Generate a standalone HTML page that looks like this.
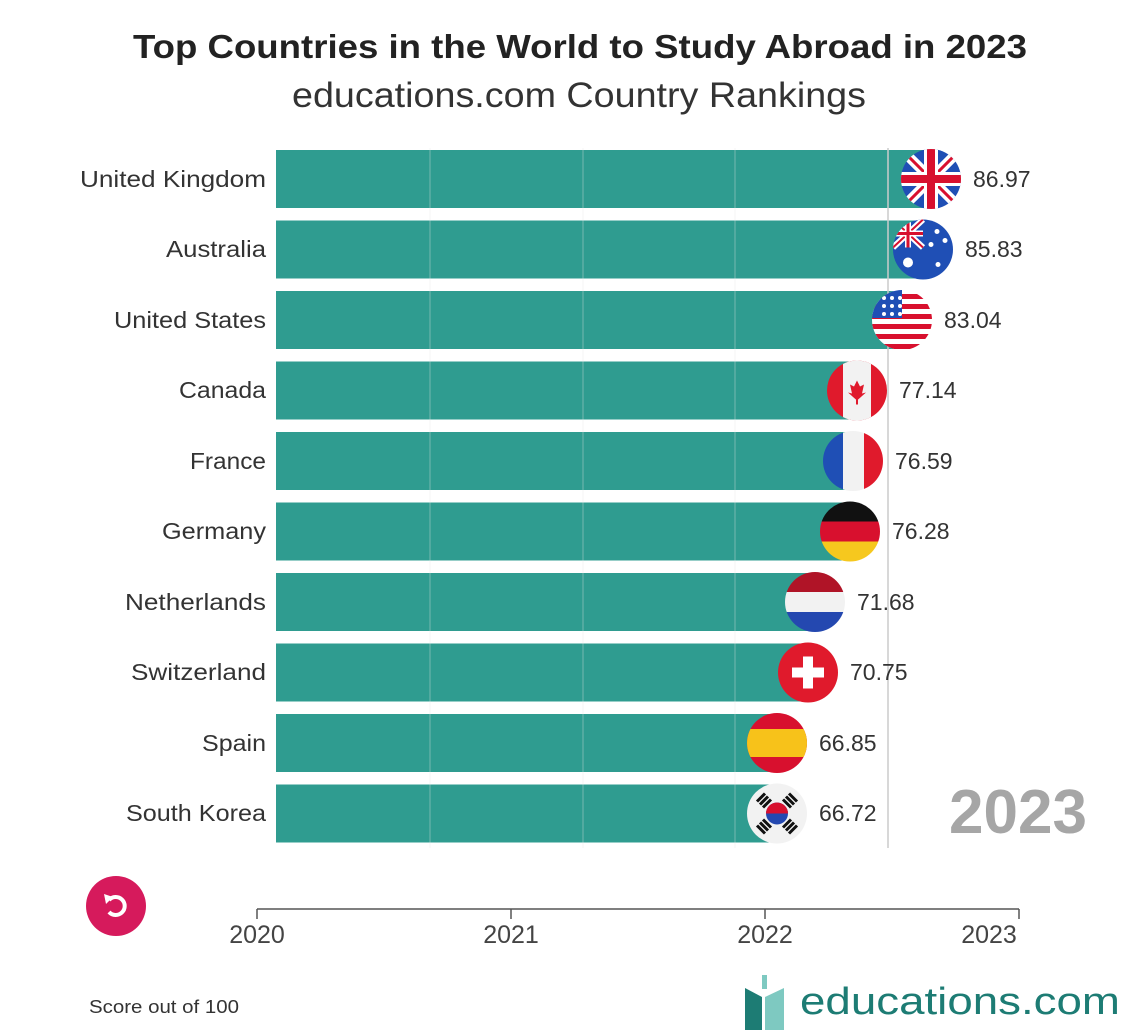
<!DOCTYPE html>
<html><head><meta charset="utf-8"><style>
html,body{margin:0;padding:0;background:#fff;}
svg{display:block;font-family:"Liberation Sans",sans-serif;}
</style></head><body>
<svg width="1140" height="1030" viewBox="0 0 1140 1030" xmlns="http://www.w3.org/2000/svg">
<defs><clipPath id="c"><circle cx="0" cy="0" r="30"/></clipPath></defs>
<rect width="1140" height="1030" fill="#fff"/>
<text x="580" y="58" text-anchor="middle" font-size="33" font-weight="bold" fill="#222" textLength="894" lengthAdjust="spacingAndGlyphs">Top Countries in the World to Study Abroad in 2023</text>
<text x="579" y="107" text-anchor="middle" font-size="35" fill="#333" textLength="574" lengthAdjust="spacingAndGlyphs">educations.com Country Rankings</text>

<g fill="#2f9c90">
<rect x="276" y="150" width="655" height="58"/>
<rect x="276" y="220.5" width="647" height="58"/>
<rect x="276" y="291" width="626" height="58"/>
<rect x="276" y="361.5" width="581" height="58"/>
<rect x="276" y="432" width="577" height="58"/>
<rect x="276" y="502.5" width="574" height="58"/>
<rect x="276" y="573" width="539" height="58"/>
<rect x="276" y="643.5" width="532" height="58"/>
<rect x="276" y="714" width="501" height="58"/>
<rect x="276" y="784.5" width="501" height="58"/>
</g>
<g stroke="#e8e8e8" stroke-opacity="0.25" stroke-width="1.5">
<line x1="430" y1="148" x2="430" y2="848"/><line x1="583" y1="148" x2="583" y2="848"/><line x1="735" y1="148" x2="735" y2="848"/>
</g>
<line x1="888" y1="148" x2="888" y2="848" stroke="#ccc" stroke-width="1.5"/>

<g font-size="23" fill="#333" text-anchor="end">
<text x="266" y="187" textLength="186" lengthAdjust="spacingAndGlyphs">United Kingdom</text>
<text x="266" y="257" textLength="100" lengthAdjust="spacingAndGlyphs">Australia</text>
<text x="266" y="328" textLength="152" lengthAdjust="spacingAndGlyphs">United States</text>
<text x="266" y="398" textLength="87" lengthAdjust="spacingAndGlyphs">Canada</text>
<text x="266" y="469" textLength="76" lengthAdjust="spacingAndGlyphs">France</text>
<text x="266" y="539" textLength="104" lengthAdjust="spacingAndGlyphs">Germany</text>
<text x="266" y="610" textLength="141" lengthAdjust="spacingAndGlyphs">Netherlands</text>
<text x="266" y="680" textLength="135" lengthAdjust="spacingAndGlyphs">Switzerland</text>
<text x="266" y="751" textLength="64" lengthAdjust="spacingAndGlyphs">Spain</text>
<text x="266" y="821" textLength="140" lengthAdjust="spacingAndGlyphs">South Korea</text>
</g>
<g font-size="23" fill="#333">
<text x="973" y="187">86.97</text>
<text x="965" y="257">85.83</text>
<text x="944" y="328">83.04</text>
<text x="899" y="398">77.14</text>
<text x="895" y="469">76.59</text>
<text x="892" y="539">76.28</text>
<text x="857" y="610">71.68</text>
<text x="850" y="680">70.75</text>
<text x="819" y="751">66.85</text>
<text x="819" y="821">66.72</text>
</g>

<g transform="translate(931,179)" clip-path="url(#c)">
<rect x="-30" y="-30" width="60" height="60" fill="#1f4fb5"/>
<path d="M-30,-30L30,30M30,-30L-30,30" stroke="#fff" stroke-width="10"/>
<path d="M-30,-30L30,30M30,-30L-30,30" stroke="#d8102e" stroke-width="3"/>
<rect x="-30" y="-7" width="60" height="14" fill="#fff"/><rect x="-7" y="-30" width="14" height="60" fill="#fff"/>
<rect x="-30" y="-4" width="60" height="8" fill="#d8102e"/><rect x="-4" y="-30" width="8" height="60" fill="#d8102e"/>
</g>
<g transform="translate(923,249.5)" clip-path="url(#c)">
<rect x="-30" y="-30" width="60" height="60" fill="#1f4fb5"/>
<path d="M-30,-30L0,-2M0,-30L-30,-2" stroke="#fff" stroke-width="6"/>
<path d="M-30,-30L0,-2M0,-30L-30,-2" stroke="#d8102e" stroke-width="2"/>
<rect x="-30" y="-19" width="30" height="6" fill="#fff"/><rect x="-18" y="-30" width="6" height="28" fill="#fff"/>
<rect x="-30" y="-17.5" width="30" height="3" fill="#d8102e"/><rect x="-16.5" y="-30" width="3" height="28" fill="#d8102e"/>
<circle cx="-15" cy="13" r="5" fill="#fff"/><circle cx="14" cy="-18" r="2.5" fill="#fff"/><circle cx="22" cy="-9" r="2.5" fill="#fff"/><circle cx="8" cy="-5" r="2.5" fill="#fff"/><circle cx="15" cy="15" r="2.5" fill="#fff"/>
</g>
<g transform="translate(902,320)" clip-path="url(#c)">
<rect x="-30" y="-30" width="60" height="60" fill="#fff"/>
<g fill="#d8102e"><rect x="-30" y="-26" width="60" height="5"/><rect x="-30" y="-16" width="60" height="5"/><rect x="-30" y="-6" width="60" height="5"/><rect x="-30" y="4" width="60" height="5"/><rect x="-30" y="14" width="60" height="5"/><rect x="-30" y="24" width="60" height="5"/></g>
<rect x="-30" y="-30" width="30" height="28" fill="#1f4fb5"/>
<g fill="#fff"><circle cx="-18" cy="-22" r="2"/><circle cx="-10" cy="-22" r="2"/><circle cx="-2" cy="-22" r="2"/><circle cx="-18" cy="-14" r="2"/><circle cx="-10" cy="-14" r="2"/><circle cx="-2" cy="-14" r="2"/><circle cx="-18" cy="-6" r="2"/><circle cx="-10" cy="-6" r="2"/><circle cx="-2" cy="-6" r="2"/></g>
</g>
<g transform="translate(857,390.5)" clip-path="url(#c)">
<rect x="-30" y="-30" width="60" height="60" fill="#e01a2c"/>
<rect x="-14" y="-30" width="28" height="60" fill="#f2f2f2"/>
<path d="M0,-10L3,-4L7,-6L5,3L9,2L0,10L-9,2L-5,3L-7,-6L-3,-4Z" fill="#e01a2c"/>
<rect x="-1" y="8" width="2" height="6" fill="#e01a2c"/>
</g>
<g transform="translate(853,461)" clip-path="url(#c)">
<rect x="-30" y="-30" width="20" height="60" fill="#1f4fb5"/><rect x="-10" y="-30" width="21" height="60" fill="#f2f2f2"/><rect x="11" y="-30" width="20" height="60" fill="#e01a2c"/>
</g>
<g transform="translate(850,531.5)" clip-path="url(#c)">
<rect x="-30" y="-30" width="60" height="20" fill="#111"/><rect x="-30" y="-10" width="60" height="20" fill="#d8102e"/><rect x="-30" y="10" width="60" height="20" fill="#f6c81e"/>
</g>
<g transform="translate(815,602)" clip-path="url(#c)">
<rect x="-30" y="-30" width="60" height="20" fill="#b01427"/><rect x="-30" y="-10" width="60" height="20" fill="#f2f2f2"/><rect x="-30" y="10" width="60" height="20" fill="#2448b0"/>
</g>
<g transform="translate(808,672.5)" clip-path="url(#c)">
<rect x="-30" y="-30" width="60" height="60" fill="#e01a2c"/>
<rect x="-5" y="-16" width="10" height="32" fill="#fff"/><rect x="-16" y="-5" width="32" height="10" fill="#fff"/>
</g>
<g transform="translate(777,743)" clip-path="url(#c)">
<rect x="-30" y="-30" width="60" height="60" fill="#d8102e"/><rect x="-30" y="-14" width="60" height="28" fill="#f7c21a"/>
</g>
<g transform="translate(777,813.5)" clip-path="url(#c)">
<rect x="-30" y="-30" width="60" height="60" fill="#f2f2f2"/>
<circle cx="0" cy="0" r="11" fill="#2448b0"/><path d="M-11,0A11,11 0 0 1 11,0Z" fill="#d8102e"/>
<g stroke="#111" stroke-width="3">
<path d="M-20,-12L-12,-20M-17,-9L-9,-17M-14,-6L-6,-14"/>
<path d="M20,-12L12,-20M17,-9L9,-17M14,-6L6,-14"/>
<path d="M-20,12L-12,20M-17,9L-9,17M-14,6L-6,14"/>
<path d="M20,12L12,20M17,9L9,17M14,6L6,14"/>
</g>
</g>

<text x="1018" y="833" text-anchor="middle" font-size="62" font-weight="bold" fill="#a6a6a6">2023</text>

<circle cx="116" cy="906" r="30" fill="#d61a5c"/>
<path d="M109,900 A9,9 0 1 1 109,912" fill="none" stroke="#fff" stroke-width="4"/>
<path d="M104,894 L113,897 L106,904 Z" fill="#fff"/>

<g stroke="#555" stroke-width="1.5">
<line x1="257" y1="909" x2="1019" y2="909"/>
<line x1="257" y1="909" x2="257" y2="919"/><line x1="511" y1="909" x2="511" y2="919"/><line x1="765" y1="909" x2="765" y2="919"/><line x1="1019" y1="909" x2="1019" y2="919"/>
</g>
<g font-size="25" fill="#444" text-anchor="middle">
<text x="257" y="943">2020</text><text x="511" y="943">2021</text><text x="765" y="943">2022</text><text x="989" y="943">2023</text>
</g>

<text x="89" y="1013" font-size="18" fill="#333" textLength="150" lengthAdjust="spacingAndGlyphs">Score out of 100</text>

<g>
<path d="M745,988 L762,997 L762,1030 L745,1030 Z" fill="#1d7c74"/>
<path d="M765,997 L784,988 L784,1030 L765,1030 Z" fill="#7ec9c1"/>
<rect x="762" y="975" width="5" height="14" fill="#7ec9c1"/>
</g>
<text x="800" y="1014" font-size="38" fill="#1d7c74" textLength="320" lengthAdjust="spacingAndGlyphs">educations.com</text>
</svg>
</body></html>
